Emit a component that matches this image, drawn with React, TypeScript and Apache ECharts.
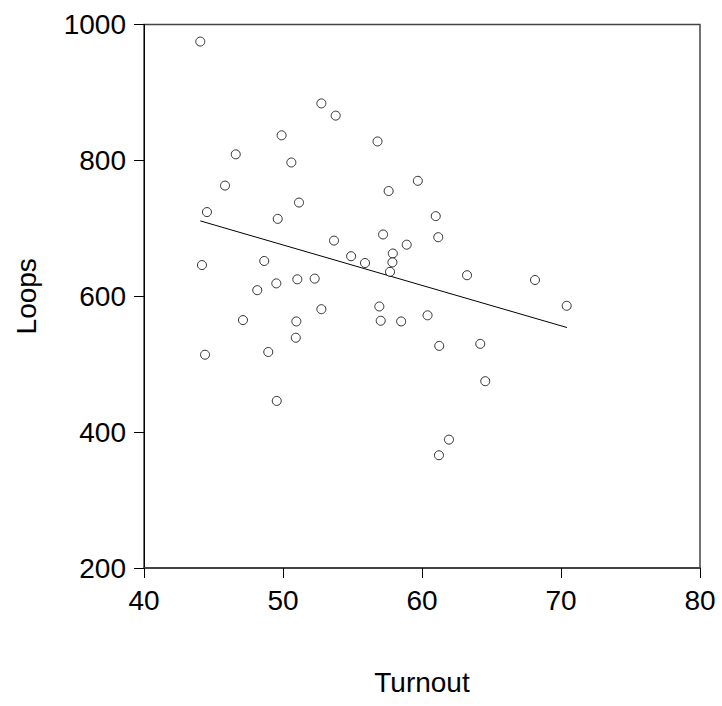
import React, { useEffect, useRef } from "react";
import * as echarts from "echarts";

const turnout = [
  44.05, 52.76, 53.79, 49.9, 56.8, 46.6, 50.6, 59.7, 45.83, 57.6, 51.15, 44.53,
  49.62, 57.2, 58.9, 53.67, 54.9, 55.9, 57.9, 57.87, 57.7, 44.17, 48.65, 51.03,
  52.28, 49.52, 48.15, 60.99, 61.17, 63.24, 68.13, 52.76, 56.93, 57.03, 58.5,
  60.4, 47.12, 50.96, 50.92, 44.39, 48.94, 49.55, 70.41, 61.24, 64.19, 64.55,
  61.94, 61.22,
];
const loops = [
  975, 884, 866, 837, 828, 809, 797, 770, 763, 755, 738, 724,
  714, 691, 676, 682, 659, 649, 663, 650, 636, 646, 652, 625,
  626, 619, 609, 718, 687, 631, 624, 581, 585, 564, 563,
  572, 565, 563, 539, 514, 518, 446, 586, 527, 530, 475,
  389, 366,
];
const fitX = [44.05, 70.43];
const fitY = [711, 554];
const xTicks = [40, 50, 60, 70, 80];
const yTicks = [200, 400, 600, 800, 1000];

const FONT = "'Liberation Sans', Arial, sans-serif";

export default function App() {
  const ref = useRef<HTMLDivElement>(null);
  useEffect(() => {
    if (!ref.current) return;
    const chart = echarts.init(ref.current, null, { renderer: "svg" });
    const points = turnout.map((x, i) => [x, loops[i]]);
    const fit = fitX.map((x, i) => [x, fitY[i]]);
    chart.setOption({
      animation: false,
      backgroundColor: "#ffffff",
      grid: {
        left: 144,
        top: 24.6,
        right: 22,
        bottom: 138,
        show: true,
        borderColor: "#444",
        borderWidth: 1.5,
        backgroundColor: "transparent",
      },
      xAxis: {
        type: "value",
        min: xTicks[0],
        max: xTicks[xTicks.length - 1],
        interval: 10,
        name: "Turnout",
        nameLocation: "middle",
        nameGap: 100,
        nameTextStyle: { fontFamily: FONT, fontSize: 28, color: "#000" },
        axisLine: { show: true, lineStyle: { color: "#444", width: 2 } },
        axisTick: { show: true, inside: false, length: 10, lineStyle: { color: "#000", width: 1 } },
        axisLabel: {
          fontFamily: FONT,
          fontSize: 28,
          color: "#000",
          margin: 18,
          formatter: (v: number) => String(v),
        },
        splitLine: { show: false },
      },
      yAxis: {
        type: "value",
        min: yTicks[0],
        max: yTicks[yTicks.length - 1],
        interval: 200,
        name: "Loops",
        nameLocation: "middle",
        nameGap: 104,
        nameTextStyle: { fontFamily: FONT, fontSize: 28, color: "#000" },
        axisLine: { show: true, lineStyle: { color: "#000", width: 1 } },
        axisTick: { show: true, inside: false, length: 10, lineStyle: { color: "#000", width: 1 } },
        axisLabel: {
          fontFamily: FONT,
          fontSize: 28,
          color: "#000",
          margin: 18,
          padding: [0, 0, 12, 0],
          formatter: (v: number) => String(v),
        },
        splitLine: { show: false },
      },
      series: [
        {
          type: "scatter",
          data: points,
          symbol: "circle",
          symbolSize: 9,
          itemStyle: { color: "#fff", borderColor: "#000", borderWidth: 1 },
          z: 3,
        },
        {
          type: "line",
          data: fit,
          symbol: "none",
          lineStyle: { color: "#000", width: 1 },
          z: 2,
        },
      ],
    });
    return () => chart.dispose();
  }, []);
  return (
    <div
      ref={ref}
      style={{ position: "fixed", left: 0, top: 0, width: 722, height: 706, background: "#fff" }}
    />
  );
}
